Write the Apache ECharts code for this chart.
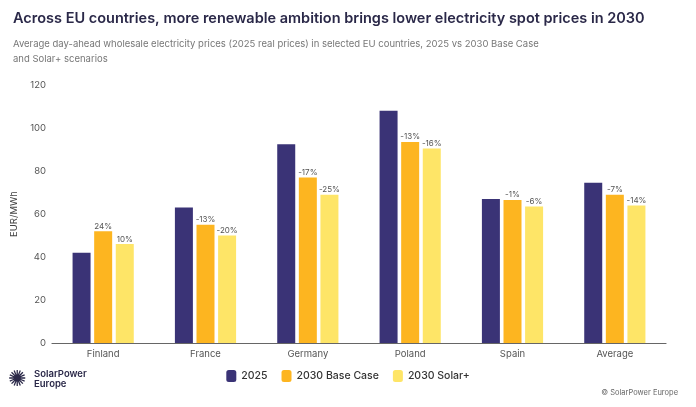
<!DOCTYPE html>
<html><head><meta charset="utf-8">
<script src="https://cdn.jsdelivr.net/npm/echarts@6/dist/echarts.min.js"></script>
<style>html,body{margin:0;padding:0;background:#fff}#c{width:696px;height:407px}</style>
</head><body><div id="c"></div>
<script>
var countries = ['Finland', 'France', 'Germany', 'Poland', 'Spain', 'Average'];
var y2025 = [42, 63, 92.5, 108, 67, 74.5];
var base2030 = [52, 55, 77, 93.5, 66.5, 69];
var solar2030 = [46, 50, 69, 90.5, 63.5, 64];
var baseLabels = ['24%', '-13%', '-17%', '-13%', '-1%', '-7%'];
var solarLabels = ['10%', '-20%', '-25%', '-16%', '-6%', '-14%'];

var font = 'Inter';
var chart = echarts.init(document.getElementById('c'));
function pctLabel(list) {
    return {
        show: true, position: 'top', distance: 1, fontSize: 8, color: '#555', fontFamily: font,
        formatter: function (p) { return list[p.dataIndex]; }
    };
}
chart.setOption({
    animation: false,
    title: [{
        text: 'Across EU countries, more renewable ambition brings lower electricity spot prices in 2030',
        left: 8, top: 6, textStyle: { fontSize: 14.5, fontWeight: 600, color: '#2a2848', fontFamily: font }
    }, {
        text: 'Average day-ahead wholesale electricity prices (2025 real prices) in selected EU countries, 2025 vs 2030 Base Case\nand Solar+ scenarios',
        left: 8, top: 32, textStyle: { fontSize: 9.5, fontWeight: 400, color: '#777', lineHeight: 15, fontFamily: font }
    }],
    grid: { left: 52, right: 30, top: 85, bottom: 64 },
    legend: {
        bottom: 20, left: 'center', itemWidth: 10, itemHeight: 12, itemGap: 14,
        textStyle: { fontSize: 10.5, color: '#333', fontFamily: font, fontWeight: 500 },
        data: ['2025', '2030 Base Case', '2030 Solar+']
    },
    xAxis: {
        type: 'category', data: countries,
        axisLine: { lineStyle: { color: '#666', width: 1.2 } }, axisTick: { show: false },
        axisLabel: { fontSize: 9.5, color: '#555', fontFamily: font, margin: 6 }
    },
    yAxis: {
        type: 'value', min: 0, max: 120, interval: 20,
        name: 'EUR/MWh', nameLocation: 'middle', nameGap: 28, nameRotate: 90,
        nameTextStyle: { fontSize: 9.5, color: '#444', fontFamily: font },
        axisLabel: { fontSize: 9.5, color: '#555', fontFamily: font, margin: 6 },
        splitLine: { show: false }, axisLine: { show: false }
    },
    series: [
        { name: '2025', type: 'bar', data: y2025, barWidth: 18, barGap: '20%', itemStyle: { color: '#3a3376' } },
        { name: '2030 Base Case', type: 'bar', data: base2030, barWidth: 18, itemStyle: { color: '#fdb520' }, label: pctLabel(baseLabels) },
        { name: '2030 Solar+', type: 'bar', data: solar2030, barWidth: 18, itemStyle: { color: '#fee567' }, label: pctLabel(solarLabels) }
    ],
    graphic: [
        { type: 'text', left: 8, bottom: 16, style: { text: '✺', fontSize: 22, fill: '#2a2848' } },
        { type: 'text', left: 34, bottom: 18, style: { text: 'SolarPower\nEurope', fontSize: 9.5, lineHeight: 10, fontWeight: 600, fill: '#2a2848', fontFamily: font } },
        { type: 'text', right: 18, bottom: 10, style: { text: '© SolarPower Europe', fontSize: 7.5, fill: '#666', fontFamily: font } }
    ]
});
</script></body></html>
